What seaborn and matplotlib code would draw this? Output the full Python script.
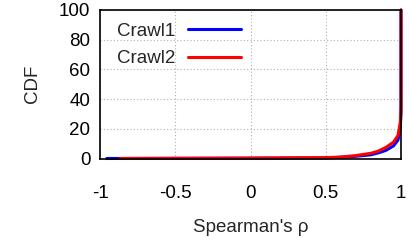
import pandas as pd
import seaborn as sns
import matplotlib.pyplot as plt

# CDF points (x = Spearman's rho, y = CDF in %)
crawl1_rho = [-0.955, 0.0, 0.5, 0.6, 0.7, 0.8, 0.85, 0.9, 0.95, 0.98, 0.995, 1.0, 1.0]
crawl1_cdf = [0.0, 0.2, 0.4, 0.8, 1.5, 2.5, 3.8, 5.5, 8.5, 12.5, 20.0, 30.0, 100.0]
crawl2_rho = [-0.867, 0.0, 0.5, 0.6, 0.7, 0.8, 0.85, 0.9, 0.95, 0.98, 0.995, 1.0, 1.0]
crawl2_cdf = [0.0, 0.3, 0.6, 1.0, 2.0, 3.5, 5.0, 7.5, 11.0, 15.5, 24.0, 35.0, 100.0]

x_ticks = [-1, -0.5, 0, 0.5, 1]
x_tick_labels = ["-1", "-0.5", "0", "0.5", "1"]
y_ticks = [0, 20, 40, 60, 80, 100]


def build_frame():
    df1 = pd.DataFrame({"rho": crawl1_rho, "cdf": crawl1_cdf, "crawl": "Crawl1"})
    df2 = pd.DataFrame({"rho": crawl2_rho, "cdf": crawl2_cdf, "crawl": "Crawl2"})
    return pd.concat([df1, df2], ignore_index=True)


def main():
    sns.set_style("white")
    plt.rcParams["font.family"] = ["Liberation Sans", "DejaVu Sans"]
    fs = 13.5

    df = build_frame()

    fig = plt.figure(figsize=(4.11, 2.44), dpi=100)
    ax = fig.add_axes([100 / 411, 1 - 158.5 / 244, 301 / 411, 148.5 / 244])

    # estimator=None so the vertical jump at rho=1 is not averaged away
    sns.lineplot(data=df, x="rho", y="cdf", hue="crawl", sort=False,
                 estimator=None, units=None,
                 palette={"Crawl1": "#0000ff", "Crawl2": "#ff0000"},
                 linewidth=2.2, ax=ax)
    for ln in ax.get_lines():
        ln.set_clip_on(False)

    ax.set_xlim(-1, 1)
    ax.set_ylim(0, 100)
    ax.set_xticks(x_ticks)
    ax.set_xticklabels(x_tick_labels)
    ax.set_yticks(y_ticks)
    ax.grid(True, color="#b0b0b0", linestyle=(0, (1, 2)), linewidth=0.8)
    ax.tick_params(direction="in", length=4, width=1, color="black",
                   labelsize=fs, labelcolor="black")
    ax.tick_params(axis="x", pad=19)
    ax.tick_params(axis="y", pad=7)
    for s in ax.spines.values():
        s.set_color("black")
        s.set_linewidth(1.2)

    ax.set_xlabel("Spearman's ρ", fontsize=fs, labelpad=12)
    ax.set_ylabel("CDF", fontsize=fs, labelpad=13)

    leg = ax.legend(loc="upper left", frameon=False, markerfirst=False,
                    handlelength=2.8, handletextpad=0.7, fontsize=fs,
                    borderaxespad=0.0, labelspacing=0.55,
                    bbox_to_anchor=(0.03, 0.965))
    for h in leg.get_lines():
        h.set_linewidth(2.2)

    fig.savefig("out.png", dpi=100)


if __name__ == "__main__":
    main()
